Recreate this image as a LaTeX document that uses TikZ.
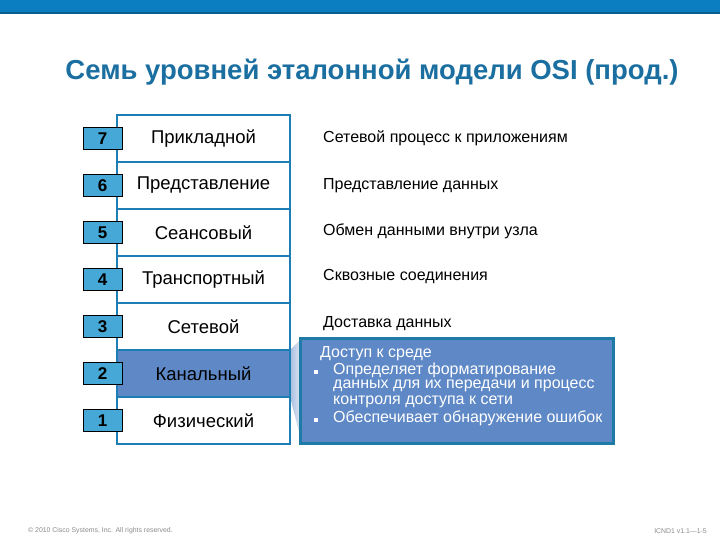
\documentclass[tikz,border=0pt]{standalone}
\usepackage{fontspec}
\setmainfont{Liberation Sans}
\definecolor{band}{HTML}{0B7DC1}
\definecolor{bandline}{HTML}{0A5E8F}
\definecolor{titlec}{HTML}{1B6FA0}
\definecolor{rowline}{HTML}{1D7DB5}
\definecolor{numfill}{HTML}{45A8D6}
\definecolor{selfill}{HTML}{5E88C6}
\definecolor{boxline}{HTML}{1E7BA6}
\definecolor{footc}{HTML}{8A8A8A}
\begin{document}
\begin{tikzpicture}[x=1pt,y=-1pt,
  layer/.style={draw=rowline,line width=2.5pt,fill=white,minimum width=173pt,minimum height=47pt,inner sep=0pt,font=\fontsize{18.5}{20}\selectfont},
  numbox/.style={draw=black,line width=0.8pt,fill=numfill,minimum width=39pt,minimum height=22pt,inner sep=0pt,font=\bfseries\fontsize{17}{18}\selectfont},
  desc/.style={anchor=west,inner sep=0pt,font=\fontsize{16}{18}\selectfont},
  btxt/.style={anchor=west,inner sep=0pt,text=white,font=\fontsize{16}{18}\selectfont},
  bul/.style={fill=white,minimum size=4pt,inner sep=0pt}]
\useasboundingbox (0,0) rectangle (720,540);
% top band
\fill[band] (0,0) rectangle (720,12);
\fill[bandline] (0,12) rectangle (720,14);
% title
\node[text=titlec,font=\bfseries\fontsize{27.5}{30}\selectfont,inner sep=0pt] (title) at (372,72) {Семь уровней эталонной модели OSI (прод.)};
% wedge
\coordinate (w1) at (290,350);
\coordinate (w2) at (290,397);
\shade[left color=selfill!55!white,right color=selfill!15!white] (w1) -- (302,338) -- (302,443) -- (w2) -- cycle;
% layers
\node[layer] (r7) at (203.5,138.5) {Прикладной};
\node[layer] (r6) at (203.5,185.5) {Представление};
\node[layer] (r5) at (203.5,232.5) {Сеансовый};
\node[layer] (r4) at (203.5,279.5) {Транспортный};
\node[layer] (r3) at (203.5,326.5) {Сетевой};
\node[layer,fill=selfill] (r2) at (203.5,373.5) {Канальный};
\node[layer] (r1) at (203.5,420.5) {Физический};
% numbers
\node[numbox] (n7) at (102.5,138.5) {7};
\node[numbox] (n6) at (102.5,185.5) {6};
\node[numbox] (n5) at (102.5,232.5) {5};
\node[numbox] (n4) at (102.5,279.5) {4};
\node[numbox] (n3) at (102.5,326.5) {3};
\node[numbox] (n2) at (102.5,373.5) {2};
\node[numbox] (n1) at (102.5,420.5) {1};
% descriptions
\node[desc] (d7) at (323,138) {Сетевой процесс к приложениям};
\node[desc] (d6) at (323,186) {Представление данных};
\node[desc] (d5) at (323,231) {Обмен данными внутри узла};
\node[desc] (d4) at (323,277) {Сквозные соединения};
\node[desc] (d3) at (323,324) {Доставка данных};
% big box
\node[draw=boxline,line width=3pt,fill=selfill,minimum width=313pt,minimum height=105pt,inner sep=0pt] (box) at (456.5,390.5) {};
\node[btxt] (b0) at (320,354) {Доступ к среде};
\node[bul] (u1) at (316,372) {};
\node[btxt] (b1) at (333,370) {Определяет форматирование};
\node[btxt] (b2) at (333,386) {данных для их передачи и процесс};
\node[btxt] (b3) at (333,402) {контроля доступа к сети};
\node[bul] (u2) at (316,420) {};
\node[btxt] (b4) at (333,418) {Обеспечивает обнаружение ошибок};
% footer
\node[anchor=west,inner sep=0pt,text=footc,font=\fontsize{6.9}{8}\selectfont] (f1) at (28,531) {© 2010 Cisco Systems, Inc. All rights reserved.};
\node[anchor=east,inner sep=0pt,text=footc,font=\fontsize{6.9}{8}\selectfont] (f2) at (707,531) {ICND1 v1.1—1-5};
\end{tikzpicture}
\end{document}
